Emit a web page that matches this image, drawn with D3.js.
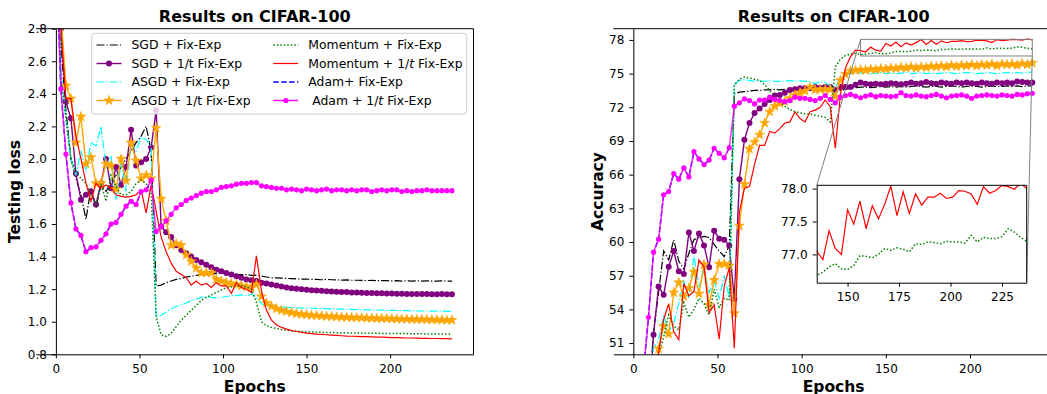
<!DOCTYPE html>
<html>
<head>
<meta charset="utf-8">
<script src="https://cdn.jsdelivr.net/npm/d3@7"></script>
<style>
body { margin: 0; background: #fff; }
svg { font-family: 'DejaVu Sans', sans-serif; }
</style>
</head>
<body>
<svg id="fig" width="1047" height="394"></svg>
<script>
// epochs (one record every 3 epochs)
const epochs = [0,3,6,9,12,15,18,21,24,27, 30,33,36,39,42,45,48,51,54,57,
  60,63,66,69,72,75,78,81,84,87, 90,93,96,99,102,105,108,111,114,117,
  120,123,126,129,132,135,138,141,144,147, 150,153,156,159,162,165,168,171,174,177,
  180,183,186,189,192,195,198,201,204,207, 210,213,216,219,222,225,228,231,234,237];

// testing loss
const lossSgdFix = [4.3,2.7,2.3,2.0,1.88,1.78,1.63,1.82,1.70,1.84,
  1.80,1.86,1.90,1.95,2.00,2.05,2.10,2.14,2.20,2.05,
  1.22,1.225,1.24,1.25,1.26,1.265,1.275,1.28,1.285,1.29,
  1.29,1.295,1.295,1.30,1.295,1.295,1.29,1.29,1.29,1.285,
  1.285,1.28,1.275,1.27,1.27,1.268,1.266,1.265,1.263,1.262,
  1.262,1.26,1.26,1.258,1.26,1.258,1.257,1.256,1.257,1.255,
  1.255,1.254,1.253,1.254,1.252,1.253,1.252,1.251,1.252,1.25,
  1.251,1.25,1.252,1.25,1.251,1.25,1.25,1.251,1.25,1.25];
const lossSgd1t = [4.4,2.8,2.35,2.25,1.91,1.75,1.78,1.80,1.72,1.85,
  2.0,1.82,1.95,1.84,1.95,2.18,1.96,1.98,2.0,2.07,
  2.3,1.585,1.55,1.52,1.47,1.44,1.42,1.40,1.38,1.365,
  1.35,1.335,1.32,1.31,1.30,1.29,1.28,1.27,1.26,1.255,
  1.25,1.24,1.235,1.228,1.222,1.216,1.21,1.206,1.202,1.2,
  1.197,1.194,1.192,1.19,1.188,1.186,1.184,1.183,1.182,1.18,
  1.179,1.178,1.177,1.176,1.175,1.175,1.174,1.173,1.172,1.172,
  1.171,1.171,1.17,1.17,1.17,1.169,1.169,1.17,1.169,1.169];
const lossAsgdFix = [4.2,2.55,2.25,2.0,1.9,2.05,1.92,2.1,2.08,2.2,
  1.95,2.02,1.75,1.98,1.80,2.10,2.05,2.13,2.12,2.08,
  1.03,1.04,1.06,1.08,1.095,1.105,1.115,1.13,1.14,1.15,
  1.155,1.15,1.145,1.15,1.155,1.16,1.16,1.165,1.16,1.17,
  1.15,1.11,1.10,1.095,1.09,1.09,1.088,1.087,1.086,1.085,
  1.085,1.083,1.082,1.08,1.08,1.079,1.078,1.078,1.077,1.076,
  1.075,1.074,1.073,1.073,1.072,1.071,1.07,1.07,1.069,1.068,
  1.068,1.067,1.067,1.066,1.066,1.065,1.065,1.065,1.064,1.064];
const lossAsgd1t = [4.3,2.9,2.45,2.37,2.10,2.26,1.97,2.01,1.85,1.85,
  1.97,1.96,1.815,2.0,1.867,2.10,1.99,1.88,1.90,1.88,
  2.19,1.755,1.62,1.47,1.48,1.47,1.41,1.37,1.33,1.30,
  1.30,1.30,1.26,1.25,1.24,1.235,1.228,1.22,1.215,1.21,
  1.23,1.155,1.115,1.095,1.08,1.07,1.062,1.056,1.05,1.046,
  1.043,1.04,1.038,1.035,1.033,1.032,1.03,1.028,1.027,1.026,
  1.025,1.024,1.022,1.022,1.02,1.02,1.019,1.018,1.017,1.016,
  1.016,1.015,1.014,1.014,1.013,1.012,1.012,1.011,1.01,1.01];
const lossMomFix = [4.0,2.5,2.25,2.0,1.92,1.88,1.85,1.78,1.72,1.85,
  1.74,1.90,1.83,1.78,1.78,1.80,1.85,1.87,1.85,1.80,
  1.03,0.92,0.91,0.93,0.97,1.01,1.04,1.07,1.10,1.13,
  1.15,1.165,1.18,1.195,1.21,1.215,1.22,1.22,1.215,1.20,
  1.12,1.0,0.975,0.965,0.958,0.952,0.948,0.945,0.942,0.94,
  0.938,0.937,0.936,0.935,0.934,0.934,0.933,0.932,0.932,0.931,
  0.931,0.93,0.93,0.929,0.929,0.928,0.928,0.928,0.927,0.927,
  0.927,0.926,0.926,0.926,0.925,0.925,0.925,0.925,0.925,0.925];
const lossMom1t = [4.2,2.8,2.37,2.37,2.14,2.0,1.85,1.74,1.85,1.82,
  1.84,1.82,1.78,1.77,1.765,1.77,1.78,1.81,1.668,1.84,
  1.68,1.52,1.43,1.36,1.31,1.29,1.27,1.225,1.25,1.225,
  1.235,1.21,1.24,1.22,1.22,1.175,1.24,1.21,1.20,1.18,
  1.405,1.19,1.07,1.01,0.98,0.965,0.955,0.945,0.94,0.935,
  0.93,0.927,0.924,0.922,0.92,0.918,0.916,0.914,0.912,0.911,
  0.91,0.909,0.908,0.907,0.906,0.905,0.904,0.903,0.902,0.901,
  0.9,0.9,0.899,0.898,0.898,0.897,0.897,0.896,0.896,0.895];
const lossAdamFix = [3.3,2.43,2.03,1.73,1.57,1.53,1.43,1.455,1.46,1.50,
  1.54,1.60,1.61,1.66,1.71,1.74,1.72,1.80,1.81,1.87];
const lossAdam1t = [3.3,2.43,2.03,1.73,1.57,1.53,1.43,1.455,1.46,1.50,
  1.54,1.60,1.61,1.66,1.71,1.74,1.72,1.80,1.81,1.87,
  1.555,1.585,1.62,1.66,1.70,1.72,1.745,1.76,1.775,1.79,
  1.80,1.80,1.81,1.825,1.83,1.835,1.845,1.85,1.85,1.855,
  1.855,1.835,1.83,1.825,1.82,1.82,1.81,1.815,1.81,1.805,
  1.815,1.81,1.805,1.81,1.815,1.805,1.81,1.81,1.805,1.81,
  1.805,1.81,1.81,1.80,1.805,1.81,1.805,1.81,1.81,1.80,
  1.805,1.80,1.805,1.805,1.81,1.805,1.805,1.805,1.805,1.805];

// accuracy
const accSgdFix = [15,30,40,46,52.0,55.5,59.2,58.4,60.2,58.3,
  57.6,59.0,60.2,60.4,60.5,60.4,59.8,59.2,58.7,59.7,
  73.2,73.35,73.4,73.45,73.5,73.5,73.55,73.55,73.6,73.55,
  73.6,73.55,73.6,73.55,73.5,73.55,73.5,73.55,73.5,73.45,
  73.4,73.5,73.6,73.7,73.75,73.8,73.8,73.75,73.8,73.85,
  73.8,73.85,73.8,73.85,73.8,73.85,73.9,73.85,73.8,73.85,
  73.85,73.8,73.85,73.9,73.85,73.8,73.85,73.9,73.85,73.8,
  73.85,73.9,73.85,73.85,73.9,73.85,73.9,73.85,73.9,73.9];
const accSgd1t = [12,28,38,45,51.75,56.04,55.3,57.8,59.2,57.4,
  57.15,60.85,59.2,60.75,59.7,57.75,61.0,60.3,60.2,59.7,
  54.9,65.6,69.1,70.6,71.5,71.9,72.3,72.65,73.05,73.1,
  73.3,73.55,73.6,73.7,73.7,73.7,73.8,73.75,73.8,73.8,
  73.55,73.8,73.8,73.8,74.0,74.2,74.1,74.05,74.1,74.05,
  74.1,74.15,74.1,74.05,74.1,74.2,74.1,74.15,74.25,74.15,
  74.1,74.2,74.15,74.1,74.2,74.15,74.2,74.15,74.1,74.2,
  74.15,74.1,74.2,74.15,74.2,74.15,74.3,74.25,74.2,74.2];
const accAsgdFix = [10,25,36,44,50.5,51.3,53.5,52.0,52.8,54.5,
  56.5,55.0,58.8,56.0,57.5,55.5,56.5,55.0,57.0,55.0,
  74.0,74.4,74.45,74.4,74.3,74.35,74.3,74.4,74.3,74.3,
  74.35,74.4,74.3,74.35,74.3,74.3,74.1,74.3,74.2,73.9,
  73.8,74.6,74.85,75.0,75.05,75.05,75.1,75.0,75.05,75.1,
  75.0,75.05,75.0,75.05,75.1,75.0,75.05,75.1,75.0,75.05,
  75.0,75.05,75.1,75.05,75.0,75.05,75.1,75.05,75.0,75.05,
  75.1,75.05,75.0,75.05,75.1,75.05,75.1,75.05,75.1,75.15];
const accAsgd1t = [8,22,33,42,48,50.5,52.5,51.8,55.5,56.4,
  55.15,55.9,57.35,55.4,58.0,54.4,56.6,58.05,58.05,57.9,
  53.65,61.45,65.15,68.3,68.9,69.55,70.6,71.6,72.1,72.35,
  72.5,72.8,73.1,73.3,73.45,73.8,73.55,73.6,73.6,73.6,
  72.95,74.4,74.95,75.25,75.3,75.35,75.3,75.4,75.35,75.45,
  75.4,75.5,75.45,75.55,75.5,75.6,75.5,75.6,75.55,75.65,
  75.6,75.7,75.6,75.75,75.65,75.75,75.7,75.8,75.7,75.8,
  75.75,75.85,75.7,75.85,75.8,75.85,75.75,75.9,75.8,75.95];
const accMomFix = [5,20,32,42,47,50.1,51.5,53.5,52.5,52.2,
  54.6,53.3,54.0,55.0,54.5,53.5,55.8,54.2,55.0,54.8,
  74.0,74.5,74.7,74.6,74.5,74.4,74.0,73.5,72.9,72.5,
  72.1,71.8,71.6,71.5,71.4,71.4,71.3,71.2,71.1,70.7,
  75.6,76.3,76.6,76.75,76.8,76.68,76.73,76.81,76.86,76.78,
  76.77,76.83,76.98,76.97,76.95,77.0,77.09,77.06,77.1,77.08,
  77.04,77.16,77.15,77.19,77.18,77.16,77.2,77.19,77.19,77.17,
  77.29,77.19,77.26,77.24,77.24,77.27,77.39,77.34,77.26,77.2];
const accMom1t = [3,18,30,40,46,50.1,53.1,54.5,52.0,51.3,
  56.3,55.2,55.6,58.4,57.8,53.7,54.4,51.35,56.1,57.7,
  50.55,62.7,64.8,64.95,66.9,68.6,68.6,69.85,69.7,70.1,
  70.6,70.7,71.6,71.0,70.7,71.6,71.75,72.0,72.65,72.05,
  68.35,73.1,75.5,76.5,77.1,77.05,76.92,77.36,77.09,77.0,
  77.68,77.46,77.81,77.39,77.74,77.54,77.76,78.04,77.59,77.95,
  77.62,77.92,77.75,77.87,77.87,77.93,77.85,77.87,77.97,77.96,
  77.92,77.76,78.03,77.93,77.97,78.05,78.03,77.99,78.08,78.0];
const accAdamFix = [35,42,48.5,53.3,59.1,60.25,64.2,64.5,66.1,65.6,
  66.6,65.8,68.05,67.4,66.9,67.3,68.35,67.9,67.5,68.4];
const accAdam1t = [35,42,48.5,53.3,59.1,60.25,64.2,64.5,66.1,65.6,
  66.6,65.8,68.05,67.4,66.9,67.3,68.35,67.9,67.5,68.4,
  72.1,72.4,72.75,72.6,72.3,72.65,72.65,72.9,72.7,72.6,
  72.5,72.6,72.9,72.8,72.8,72.7,72.6,72.8,73.05,72.7,
  72.4,72.9,73.05,73.15,73.0,72.85,73.0,73.1,72.95,73.05,
  73.0,72.95,73.0,73.3,73.05,73.0,73.1,73.0,72.95,73.05,
  73.15,73.0,72.85,73.0,73.05,73.1,73.0,72.8,73.0,73.05,
  73.1,73.05,73.0,73.1,73.05,73.0,73.15,73.1,73.2,73.25];

// ticks
const epochTicks = [0, 50, 100, 150, 200];
const lossTicks = [0.8, 1.0, 1.2, 1.4, 1.6, 1.8, 2.0, 2.2, 2.4, 2.6, 2.8];
const accTicks = [51, 54, 57, 60, 63, 66, 69, 72, 75, 78];
const insetEpochTicks = [150, 175, 200, 225];
const insetAccTicks = [77.0, 77.5, 78.0];

// legend labels (in plot order)
const labels = ['SGD + Fix-Exp', 'SGD + 1/t Fix-Exp', 'ASGD + Fix-Exp', 'ASGD + 1/t Fix-Exp',
  'Momentum + Fix-Exp', 'Momentum + 1/t Fix-Exp', 'Adam+ Fix-Exp', '\u00a0Adam + 1/t Fix-Exp'];

const styles = [
  {color: '#000000', width: 1.2, dash: '8,2,1.3,2'},
  {color: '#800080', width: 1.4, marker: 'circle', r: 3},
  {color: '#00ffff', width: 1.2, dash: '8,2,1.3,2'},
  {color: '#ffa500', width: 1.4, marker: 'star', size: 30},
  {color: '#008000', width: 1.5, dash: '1.5,2'},
  {color: '#ff0000', width: 1.2, italic: true},
  {color: '#0000ff', width: 1.5, dash: '5.5,2.4'},
  {color: '#ff00ff', width: 1.4, marker: 'circle', r: 2.6, italic: true, opacity: 0.85}
];

const svg = d3.select('#fig');

function drawMarkers(g, pts, st) {
  if (st.marker === 'circle') {
    g.append('g').selectAll('circle').data(pts).join('circle')
      .attr('cx', d => d[0]).attr('cy', d => d[1]).attr('r', st.r)
      .attr('fill', st.color);
  } else if (st.marker === 'star') {
    const star = d3.symbol().type(d3.symbolStar).size(st.size);
    g.append('g').selectAll('path').data(pts).join('path')
      .attr('transform', d => `translate(${d[0]},${d[1]})`)
      .attr('d', star()).attr('fill', st.color)
      .attr('stroke', st.color).attr('stroke-width', 0.6);
  }
}

class LineChart {
  constructor(config, series) {
    this.config = {
      parent: config.parent,
      id: config.id,
      box: config.box,
      xdomain: config.xdomain,
      ydomain: config.ydomain,
      xticks: config.xticks,
      yticks: config.yticks,
      yformat: config.yformat || (d => d),
      yaxisAt: config.yaxisAt,
      title: config.title || '',
      xlabel: config.xlabel || '',
      ylabel: config.ylabel || '',
      ylabelX: config.ylabelX || 0,
      background: config.background || false,
      fontSize: config.fontSize || 12
    };
    this.series = series;
    this.init();
  }

  init() {
    let self = this;
    const c = self.config;
    self.xscale = d3.scaleLinear().domain(c.xdomain).range([c.box.left, c.box.right]);
    self.yscale = d3.scaleLinear().domain(c.ydomain).range([c.box.bottom, c.box.top]);
    self.chart = c.parent.append('g');
    if (c.background) {
      self.chart.append('rect')
        .attr('x', c.box.left).attr('y', c.box.top)
        .attr('width', c.box.right - c.box.left).attr('height', c.box.bottom - c.box.top)
        .attr('fill', '#fff');
    }
    self.chart.append('clipPath').attr('id', c.id).append('rect')
      .attr('x', c.box.left).attr('y', c.box.top)
      .attr('width', c.box.right - c.box.left).attr('height', c.box.bottom - c.box.top);
    self.plot = self.chart.append('g').attr('clip-path', `url(#${c.id})`);
  }

  update() {
    let self = this;
    const line = d3.line()
      .x(d => self.xscale(d[0]))
      .y(d => self.yscale(d[1]));
    self.series.forEach(s => {
      const pts = s.values.map((v, i) => [epochs[i], v]);
      self.plot.append('path')
        .attr('d', line(pts))
        .attr('fill', 'none')
        .attr('stroke', s.style.color)
        .attr('stroke-width', s.style.width)
        .attr('stroke-opacity', s.style.opacity || 1)
        .attr('stroke-dasharray', s.style.dash || null);
      if (s.style.marker) {
        drawMarkers(self.plot, pts.map(p => [self.xscale(p[0]), self.yscale(p[1])]), s.style);
      }
    });
    self.render();
  }

  render() {
    let self = this;
    const c = self.config;
    const fs = c.fontSize;
    const xaxis = d3.axisBottom(self.xscale).tickValues(c.xticks)
      .tickSize(4).tickSizeOuter(0).tickPadding(6);
    self.chart.append('g')
      .attr('transform', `translate(0,${c.box.bottom})`)
      .call(xaxis)
      .attr('font-size', fs).attr('font-family', 'DejaVu Sans');
    const yaxis = d3.axisLeft(self.yscale).tickValues(c.yticks).tickFormat(c.yformat)
      .tickSize(4).tickSizeOuter(0).tickPadding(5);
    self.chart.append('g')
      .attr('transform', `translate(${self.xscale(c.yaxisAt)},0)`)
      .call(yaxis)
      .attr('font-size', fs).attr('font-family', 'DejaVu Sans');
    // top and right spines
    self.chart.append('line')
      .attr('x1', c.box.left).attr('x2', c.box.right)
      .attr('y1', c.box.top).attr('y2', c.box.top)
      .attr('stroke', '#000');
    self.chart.append('line')
      .attr('x1', c.box.right).attr('x2', c.box.right)
      .attr('y1', c.box.top).attr('y2', c.box.bottom)
      .attr('stroke', '#000');
    if (c.title) {
      self.chart.append('text')
        .attr('x', (c.box.left + c.box.right) / 2).attr('y', 22.4)
        .attr('text-anchor', 'middle')
        .style('font-size', '16px').style('font-weight', 'bold')
        .text(c.title);
    }
    if (c.xlabel) {
      self.chart.append('text')
        .attr('x', (c.box.left + c.box.right) / 2).attr('y', 391.5)
        .attr('text-anchor', 'middle')
        .style('font-size', '15.5px').style('font-weight', 'bold')
        .text(c.xlabel);
    }
    if (c.ylabel) {
      self.chart.append('text')
        .attr('transform', `translate(${c.ylabelX},${(c.box.top + c.box.bottom) / 2}) rotate(-90)`)
        .attr('text-anchor', 'middle')
        .style('font-size', '15.5px').style('font-weight', 'bold')
        .text(c.ylabel);
    }
  }
}

function makeSeries(arrays) {
  return arrays.map((values, i) => ({values: values, style: styles[i], label: labels[i]}));
}

// left: testing loss
const lossChart = new LineChart({
  parent: svg, id: 'clip-loss',
  box: {left: 36, right: 473.5, top: 28.7, bottom: 354.3},
  xdomain: [-11.9, 249.9], ydomain: [0.8, 2.8],
  xticks: epochTicks, yticks: lossTicks, yformat: d3.format('.1f'),
  yaxisAt: 0,
  title: 'Results on CIFAR-100', xlabel: 'Epochs', ylabel: 'Testing loss', ylabelX: 19.5
}, makeSeries([lossSgdFix, lossSgd1t, lossAsgdFix, lossAsgd1t, lossMomFix, lossMom1t, lossAdamFix, lossAdam1t]));
lossChart.update();

// legend
const legend = svg.append('g');
legend.append('rect')
  .attr('x', 91.7).attr('y', 33.3).attr('width', 375).attr('height', 80.7)
  .attr('rx', 3).attr('fill', '#fff').attr('fill-opacity', 0.8)
  .attr('stroke', '#cccccc').attr('stroke-width', 1);
labels.forEach((lab, i) => {
  const col = Math.floor(i / 4), row = i % 4;
  const x0 = col === 0 ? 96.5 : 273.3;
  const y0 = 45 + row * 18.5;
  const st = styles[i];
  legend.append('line')
    .attr('x1', x0).attr('x2', x0 + 25).attr('y1', y0).attr('y2', y0)
    .attr('stroke', st.color).attr('stroke-width', st.width)
    .attr('stroke-dasharray', st.dash || null);
  if (st.marker) drawMarkers(legend, [[x0 + 12.5, y0]], st);
  const t = legend.append('text')
    .attr('x', x0 + 35).attr('y', y0 + 4.4)
    .style('font-size', '12.4px');
  if (st.italic) {
    const parts = lab.split('1/t');
    t.append('tspan').text(parts[0] + '1/');
    t.append('tspan').style('font-style', 'italic').text('t');
    t.append('tspan').text(parts[1]);
  } else {
    t.text(lab);
  }
});

// right: accuracy
const accChart = new LineChart({
  parent: svg, id: 'clip-acc',
  box: {left: 613.3, right: 1054, top: 28.7, bottom: 354.3},
  xdomain: [-11.9, 249.9], ydomain: [50, 79],
  xticks: epochTicks, yticks: accTicks, yformat: d3.format('d'),
  yaxisAt: 0,
  title: 'Results on CIFAR-100', xlabel: 'Epochs', ylabel: 'Accuracy', ylabelX: 603
}, makeSeries([accSgdFix, accSgd1t, accAsgdFix, accAsgd1t, accMomFix, accMom1t, accAdamFix, accAdam1t]));
accChart.update();

// zoom inset
const insetBox = {left: 816.7, right: 1026.7, top: 185.3, bottom: 282.7};
const insetX = [135, 237], insetY = [76.57, 78.05];
const xs = accChart.xscale, ys = accChart.yscale;
const mark = svg.append('g').attr('fill', 'none').attr('stroke', '#808080').attr('stroke-width', 1);
mark.append('rect')
  .attr('x', xs(insetX[0])).attr('y', ys(insetY[1]))
  .attr('width', xs(insetX[1]) - xs(insetX[0])).attr('height', ys(insetY[0]) - ys(insetY[1]));
mark.append('line')
  .attr('x1', xs(insetX[0])).attr('y1', ys(insetY[1]))
  .attr('x2', insetBox.left).attr('y2', insetBox.top);
mark.append('line')
  .attr('x1', xs(insetX[1])).attr('y1', ys(insetY[0]))
  .attr('x2', insetBox.right).attr('y2', insetBox.bottom);

const inset = new LineChart({
  parent: svg, id: 'clip-inset', background: true,
  box: insetBox, xdomain: insetX, ydomain: insetY,
  xticks: insetEpochTicks, yticks: insetAccTicks, yformat: d3.format('.1f'),
  yaxisAt: insetX[0]
}, [{values: accMomFix, style: styles[4]}, {values: accMom1t, style: styles[5]}]);
inset.update();
</script>
</body>
</html>
